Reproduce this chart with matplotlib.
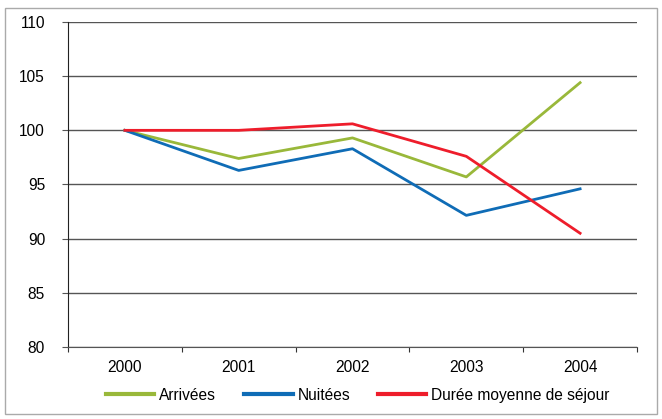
import matplotlib
matplotlib.use("Agg")
import matplotlib.pyplot as plt
from matplotlib.patches import Rectangle
import numpy as np

plt.rcParams['font.family'] = ['Liberation Sans', 'DejaVu Sans']

years = ['2000', '2001', '2002', '2003', '2004']
arrivees = [100, 97.4, 99.3, 95.7, 104.4]
nuitees = [100, 96.3, 98.3, 92.15, 94.6]
duree = [100, 100, 100.6, 97.6, 90.5]

fig = plt.figure(figsize=(6.62, 4.19), dpi=100)
ax = fig.add_axes([68/662, 1-347/419, (637-68)/662, (347-22)/419])

x = np.arange(len(years))
ax.plot(x, arrivees, color='#99b83a', lw=2, label='Arrivées')
ax.plot(x, nuitees, color='#0f6cb6', lw=2, label='Nuitées')
ax.plot(x, duree, color='#ee1d2b', lw=2, label='Durée moyenne de séjour')

ax.set_xlim(-0.5, 4.5)
ax.set_ylim(80, 110)
ax.set_yticks(range(80, 111, 5))
ax.yaxis.grid(True, color='#555555', lw=1)
ax.set_axisbelow(True)

ax.set_xticks(np.arange(-0.5, 5, 1))
ax.set_xticklabels([])
ax.set_xticks(x, minor=True)
ax.set_xticklabels(years, minor=True)
ax.tick_params(axis='x', which='minor', length=0, pad=9, labelsize=11.2)
ax.tick_params(axis='x', which='major', length=3.6, direction='out', color='#333333')
ax.tick_params(axis='y', length=4.5, direction='out', color='#555555', labelsize=11.2, pad=12)

for s in ['top', 'right']:
    ax.spines[s].set_visible(False)
ax.spines['left'].set_color('#222222')
ax.spines['bottom'].set_color('#555555')

leg = fig.legend(loc='center', bbox_to_anchor=(358/662, 1-395/419), ncol=3, frameon=False,
                 fontsize=11.2, handlelength=3.1, handletextpad=0.32, columnspacing=1.8)
for h in leg.get_lines():
    h.set_linewidth(3)

fig.patches.append(Rectangle((5/662, 1-414/419), 652/662, 406/419, transform=fig.transFigure,
                             fill=False, edgecolor='#aaaaaa', lw=1))

fig.savefig('out.png', dpi=100)
